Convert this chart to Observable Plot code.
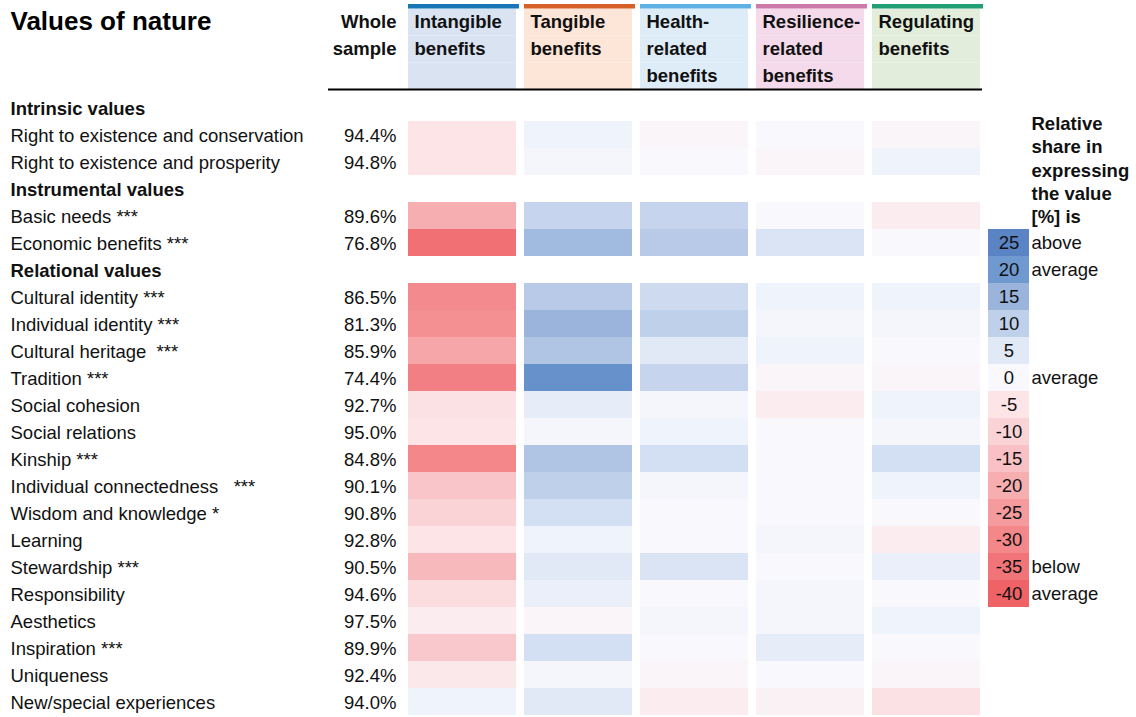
<!DOCTYPE html>
<html>
<head>
<meta charset="utf-8">
<script src="https://cdn.jsdelivr.net/npm/d3@7"></script>
<script src="https://cdn.jsdelivr.net/npm/@observablehq/plot@0.6"></script>
<style>
  html, body { margin: 0; padding: 0; background: #fff; }
  #chart { width: 1136px; height: 717px; }
</style>
</head>
<body>
<div id="chart"></div>
<script>
// ---------- DATA ----------
const title = "Values of nature";
const columns = ["Intangible benefits", "Tangible benefits", "Health-related benefits", "Resilience-related benefits", "Regulating benefits"];
const headerLines = [["Intangible", "benefits"], ["Tangible", "benefits"], ["Health-", "related", "benefits"], ["Resilience-", "related", "benefits"], ["Regulating", "benefits"]];
const stripeColors = ["#1876b6", "#d6622a", "#5db1e4", "#cd79aa", "#229e75"];
const headerFills = ["#d9e3f1", "#fde5d7", "#ddecf7", "#f4daea", "#e2eedb"];

const rowLabels = [
  "Intrinsic values",
  "Right to existence and conservation",
  "Right to existence and prosperity",
  "Instrumental values",
  "Basic needs ***",
  "Economic benefits ***",
  "Relational values",
  "Cultural identity ***",
  "Individual identity ***",
  "Cultural heritage\u00a0 ***",
  "Tradition ***",
  "Social cohesion",
  "Social relations",
  "Kinship ***",
  "Individual connectedness\u00a0\u00a0 ***",
  "Wisdom and knowledge *",
  "Learning",
  "Stewardship ***",
  "Responsibility",
  "Aesthetics",
  "Inspiration ***",
  "Uniqueness",
  "New/special experiences"
];
const groupRows = ["Intrinsic values", "Instrumental values", "Relational values"];

const wholeSample = [null, 94.4, 94.8, null, 89.6, 76.8, null, 86.5, 81.3, 85.9, 74.4, 92.7, 95.0, 84.8, 90.1, 90.8, 92.8, 90.5, 94.6, 97.5, 89.9, 92.4, 94.0];
const intangible  = [null, -5, -5, null, -20, -36, null, -29, -28, -22, -32, -6, -5, -30, -14, -10, -5, -17, -7, -3, -13, -4, 2];
const tangible    = [null, 2, 1, null, 9, 14, null, 11, 15, 12, 22, 4, 1, 12, 10, 7, 2, 5, 3, -1, 7, 1, 5];
const health      = [null, -1, 0, null, 9, 11, null, 8, 10, 5, 9, 1, 2, 7, 1, 0, 0, 6, 0, 1, 0, -1, -3];
const resilience  = [null, 0, -1, null, 0, 6, null, 2, 1, 2, -1, -3, 0, 0, 0, 0, 1, 0, 1, 1, 4, 0, -2];
const regulating  = [null, -1, 2, null, -3, 0, null, 2, 1, 0, -1, 2, 1, 7, 2, 0, -3, 3, 0, 2, 0, -1, -6];
const seriesValues = [intangible, tangible, health, resilience, regulating];

const legendValues = [25, 20, 15, 10, 5, 0, -5, -10, -15, -20, -25, -30, -35, -40];
const colorStops = [-40, -35, -30, -25, -20, -15, -10, -5, 0, 5, 10, 15, 20, 25];
const colorRange = ["#ef6266", "#f17478", "#f3878a", "#f59a9d", "#f7aeb1", "#f9c1c5", "#fad3d6", "#fce4e7", "#f9f9fd", "#e1e9f7", "#bfd0ea", "#9ab4dc", "#7099d0", "#5a84c4"];
const legendTitle = "Relative\nshare in\nexpressing\nthe value\n[%] is";
const legendSideLabels = [["above", 0], ["average", 1], ["average", 5], ["below", 12], ["average", 13]];
const legendFirstRow = 5;

// ---------- TABLES ----------
const headerKeys = ["h1", "h2", "h3"];
const cells = [];
rowLabels.forEach((row, i) => {
  seriesValues.forEach((s, c) => {
    if (s[i] != null) cells.push({row, col: columns[c], v: s[i]});
  });
});
const headerText = [];
headerLines.forEach((lines, c) => lines.forEach((t, k) => headerText.push({col: columns[c], h: headerKeys[k], t})));
const wholeRows = rowLabels.map((row, i) => ({row, v: wholeSample[i]})).filter(d => d.v != null);
const legendCells = legendValues.map((v, i) => ({row: rowLabels[legendFirstRow + i], v}));
const legendLabels = legendSideLabels.map(([t, k]) => ({row: rowLabels[legendFirstRow + k], t}));

const step = 623 / 23;
const font = "'Liberation Sans', Arial, Helvetica, sans-serif";
const fs = 18.5;
const ink = "#111";
const hdy = -4.8;

const marks = [];
// header backgrounds & stripes
columns.forEach((col, c) => {
  marks.push(Plot.cell(headerKeys, {x: () => col, y: d => d, fill: headerFills[c], dy: -4.4}));
  marks.push(Plot.cell(["h1"], {x: () => col, y: d => d, fill: stripeColors[c], dy: -4.4, insetTop: -4.6, insetBottom: step, insetRight: -3}));
});
marks.push(
  Plot.text(headerText, {x: "col", y: "h", text: "t", textAnchor: "start", dx: -48, dy: hdy, fontSize: fs, fontWeight: "bold", fill: ink}),
  Plot.text([["h1", "Whole"], ["h2", "sample"]], {y: d => d[0], text: d => d[1], frameAnchor: "left", dx: 396, textAnchor: "end", dy: hdy, fontSize: fs, fontWeight: "bold", fill: ink}),
  Plot.ruleY(["h3"], {y: d => d, x1: () => columns[0], x2: () => columns[4], insetLeft: -80, insetRight: -2, dy: 8.6, stroke: "#000", strokeWidth: 2}),
  Plot.text([title], {frameAnchor: "top-left", dx: 10, dy: 21, lineAnchor: "middle", textAnchor: "start", fontSize: 26, fontWeight: "bold", fill: "#000"}),
  // data cells
  Plot.cell(cells, {x: "col", y: "row", fill: "v"}),
  // row labels
  Plot.text(rowLabels.filter(r => !groupRows.includes(r)), {y: d => d, text: d => d, frameAnchor: "left", dx: 10, dy: 1.2, textAnchor: "start", fontSize: fs, fill: ink}),
  Plot.text(groupRows, {y: d => d, text: d => d, frameAnchor: "left", dx: 10, dy: 1, textAnchor: "start", fontSize: fs, fontWeight: "bold", fill: ink}),
  Plot.text(wholeRows, {y: "row", text: d => d.v.toFixed(1) + "%", frameAnchor: "left", dx: 396, dy: 1.2, textAnchor: "end", fontSize: fs, fill: ink}),
  // legend
  Plot.cell(legendCells, {x: () => "legend", y: "row", fill: "v", insetRight: 67}),
  Plot.text(legendCells, {x: () => "legend", y: "row", text: d => String(d.v), dx: -33.5, dy: 0.5, textAnchor: "middle", fontSize: fs, fill: ink}),
  Plot.text(legendLabels, {x: () => "legend", y: "row", text: "t", dx: -11, dy: 0.5, textAnchor: "start", fontSize: fs, fill: ink}),
  Plot.text([legendTitle], {x: () => "legend", y: () => rowLabels[3], dx: -11, dy: -19.8, textAnchor: "start", lineHeight: 1.26, fontSize: fs, fontWeight: "bold", fill: ink})
);

const chart = Plot.plot({
  width: 1136,
  height: 717,
  margin: 0,
  style: {fontFamily: font, background: "#fff", color: ink, overflow: "visible"},
  x: {type: "band", domain: [...columns, "legend"], range: [408, 1096], paddingInner: 8 / 116, paddingOuter: 0, axis: null},
  y: {type: "band", domain: [...headerKeys, ...rowLabels], range: [93 - 3 * step, 716], padding: 0, axis: null},
  color: {type: "linear", domain: colorStops, range: colorRange, interpolate: "rgb"},
  marks
});
document.getElementById("chart").appendChild(chart);
</script>
</body>
</html>
